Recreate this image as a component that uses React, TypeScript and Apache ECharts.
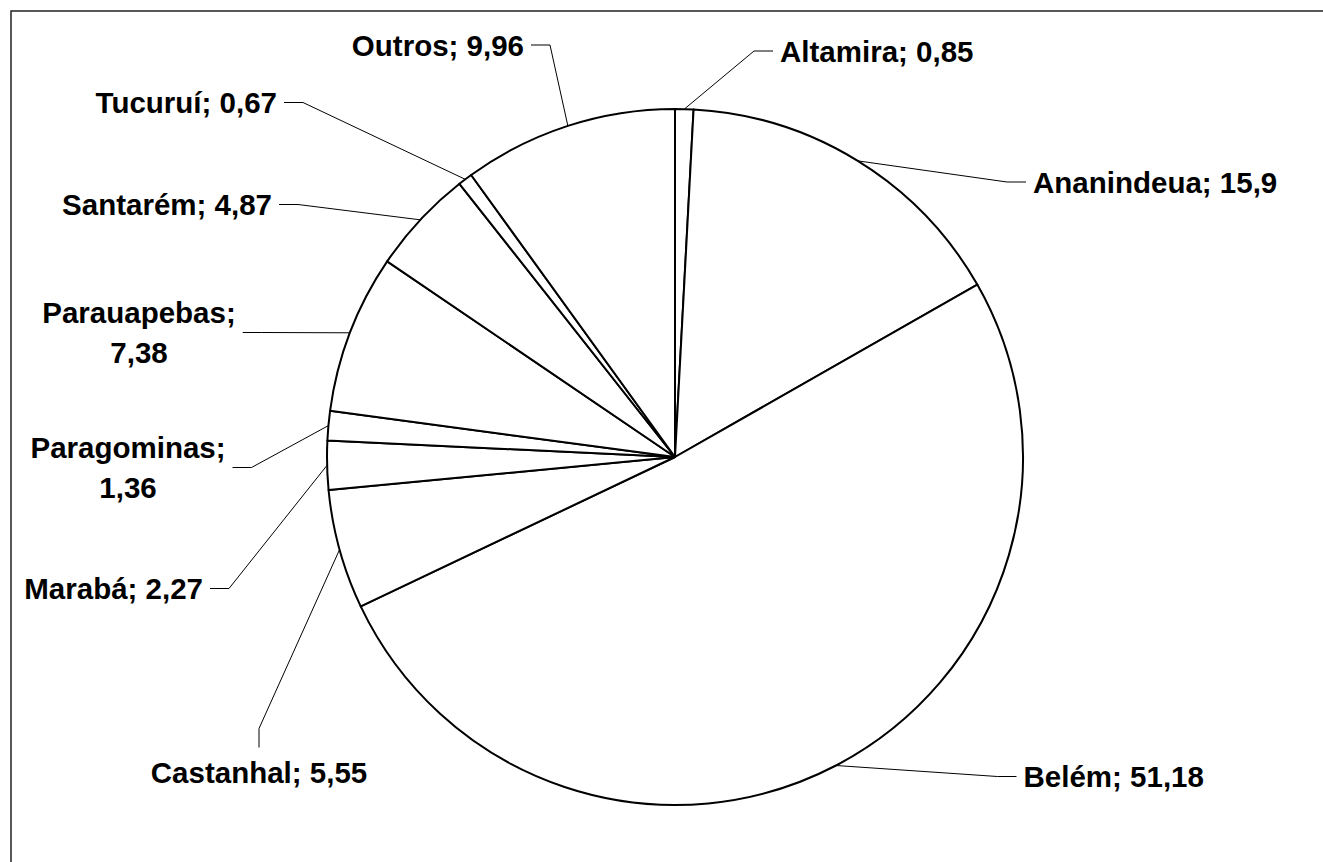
import React, { useEffect, useRef } from "react";
import * as echarts from "echarts";

// Data
const categories = [
  "Altamira",
  "Ananindeua",
  "Belém",
  "Castanhal",
  "Marabá",
  "Paragominas",
  "Parauapebas",
  "Santarém",
  "Tucuruí",
  "Outros",
];
const values = [0.85, 15.9, 51.18, 5.55, 2.27, 1.36, 7.38, 4.87, 0.67, 9.96];

// Label placement (layout only)
const labelWrap = [false, false, false, false, false, true, true, false, false, false];
const labelX = [773, 1026, 1016.5, 259, 210, 128, 139, 279, 284, 531];
const labelY = [51, 182, 776.5, 772.5, 588.5, 467.5, 332.5, 204.5, 102.5, 45];
const labelAlign = ["left", "left", "left", "center", "right", "center", "center", "right", "right", "right"];

const fmt = (v: number) => String(v).replace(".", ",");

export default function App() {
  const ref = useRef<HTMLDivElement>(null);

  useEffect(() => {
    if (!ref.current) return;
    const chart = echarts.init(ref.current, undefined, { renderer: "svg" });
    const data = categories.map((name, i) => ({ name, value: values[i] }));
    chart.setOption({
      animation: false,
      backgroundColor: "#ffffff",
      graphic: [
        {
          type: "rect",
          shape: { x: 11, y: 11, width: 1360, height: 900 },
          style: { fill: "none", stroke: "#222", lineWidth: 1.5 },
          silent: true,
        },
      ],
      series: [
        {
          type: "pie",
          center: [675, 457],
          radius: 348,
          startAngle: 90,
          clockwise: true,
          avoidLabelOverlap: false,
          data,
          itemStyle: { color: "#ffffff", borderColor: "#000000", borderWidth: 2 },
          emphasis: { disabled: true },
          label: {
            show: true,
            position: "outside",
            color: "#000000",
            fontFamily: "'Liberation Sans', Arial, sans-serif",
            fontWeight: "bold",
            fontSize: 29.5,
            lineHeight: 40,
            padding: [5, 7],
            backgroundColor: "rgba(0,0,0,0)",
            formatter: (p: any) =>
              p.name + ";" + (labelWrap[p.dataIndex] ? "\n" : " ") + fmt(p.value),
          },
          labelLine: {
            show: true,
            length: 15,
            length2: 19,
            minTurnAngle: 90,
            lineStyle: { color: "#000000", width: 1 },
          },
          labelLayout: (p: any) => {
            const i = p.dataIndex;
            return {
              x: labelX[i],
              y: labelY[i],
              align: labelAlign[i],
              verticalAlign: "middle",
            };
          },
        },
      ],
    });
    return () => chart.dispose();
  }, []);

  return (
    <div
      ref={ref}
      style={{ position: "absolute", left: 0, top: 0, width: 1323, height: 862, background: "#fff" }}
    />
  );
}
